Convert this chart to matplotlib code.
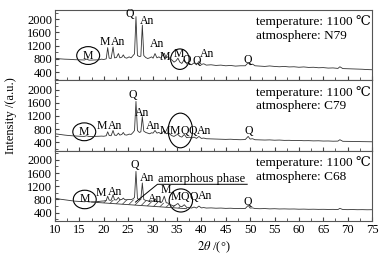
import matplotlib
matplotlib.use("Agg")
from matplotlib import pyplot as plt
from matplotlib.patches import Ellipse
from matplotlib.ticker import MultipleLocator

# diffraction angle, shared by the three patterns
two_theta = [10, 11, 12, 13, 14, 15, 16, 16.5, 17, 18, 19, 19.5, 20, 20.5, 20.8, 21.1,
             21.5, 21.9, 22.2, 22.6, 23.0, 23.3, 23.7, 24.0, 24.3, 24.7, 25.2, 25.6,
             26.0, 26.3, 26.6, 26.9, 27.3, 27.6, 27.9, 28.2, 28.6, 29.0, 29.4, 29.8,
             30.1, 30.5, 30.9, 31.3, 31.7, 32.0, 32.4, 32.8, 33.2, 33.6, 34.0, 34.4,
             34.8, 35.2, 35.6, 36.0, 36.5, 37.0, 37.5, 38.0, 38.5, 39.0, 39.5, 40.0,
             40.5, 41, 42, 43, 44, 45, 46, 47, 48, 49, 49.6, 50.0, 50.5, 51, 52, 53,
             54, 55, 56, 57, 58, 59, 60, 61, 62, 63, 64, 65, 66, 67, 68, 68.4, 69,
             70, 71, 72, 73, 74, 75]

n79 = [820, 800, 790, 785, 775, 770, 765, 790, 760, 765, 770, 790, 780, 800, 1140, 820,
       810, 1160, 830, 840, 960, 830, 850, 920, 840, 820, 860, 830,
       900, 950, 2080, 900, 870, 880, 1820, 900, 840, 810, 830, 860,
       820, 960, 830, 860, 820, 900, 970, 830, 870, 800, 760, 700,
       740, 820, 700, 660, 780, 640, 660, 620, 680, 620, 720, 630,
       650, 610, 620, 600, 610, 590, 600, 580, 590, 590, 680, 620, 640, 590, 580, 570,
       585, 570, 560, 570, 555, 560, 545, 555, 540, 545, 530, 535, 520, 525, 510, 560, 505,
       500, 495, 490, 485, 475, 470]

c79 = [660, 640, 620, 605, 595, 585, 580, 600, 575, 580, 585, 590, 585, 600, 720, 610,
       600, 760, 620, 610, 680, 620, 640, 700, 630, 620, 650, 640,
       700, 760, 1640, 760, 700, 720, 1180, 740, 700, 680, 660, 690,
       680, 760, 680, 700, 660, 700, 760, 660, 690, 640, 600, 580,
       620, 640, 580, 560, 640, 540, 560, 530, 560, 520, 580, 520,
       530, 510, 505, 500, 495, 490, 495, 485, 480, 485, 580, 500, 510, 480, 475, 470,
       475, 465, 470, 460, 462, 455, 458, 450, 452, 445, 448, 440, 442, 435, 438, 480, 432,
       430, 428, 425, 422, 420, 418]

c68 = [840, 810, 790, 770, 750, 740, 730, 740, 725, 730, 740, 750, 755, 770, 900, 780,
       775, 940, 790, 785, 860, 790, 800, 840, 795, 790, 800, 795,
       820, 860, 1650, 830, 790, 800, 1300, 800, 770, 760, 750, 760,
       740, 820, 730, 740, 700, 740, 900, 700, 690, 650, 620, 600,
       640, 680, 600, 580, 640, 560, 560, 540, 570, 540, 600, 545,
       555, 540, 545, 535, 540, 530, 535, 525, 530, 525, 620, 540, 545, 525, 520, 525,
       515, 520, 512, 515, 510, 512, 505, 508, 502, 505, 500, 502, 498, 500, 495, 530, 495,
       492, 495, 490, 492, 488, 490]

# amorphous hump of the C68 pattern
amorph_x = [17.5, 19, 21, 23, 25, 27, 29, 31, 33, 35, 37]
amorph_top = [725, 745, 780, 795, 800, 790, 755, 735, 680, 620, 525]
amorph_base = [720, 705, 685, 664, 644, 623, 603, 582, 562, 541, 520]

atmospheres = ["N79", "C79", "C68"]
patterns = [n79, c79, c68]

# phase labels (text, 2theta, intensity) for each panel
peak_labels = [
    [("M", 16.8, 900), ("M", 20.3, 1300), ("An", 22.9, 1320), ("Q", 25.3, 2150),
     ("An", 28.9, 1960), ("An", 30.9, 1260), ("M", 32.6, 870), ("M", 35.3, 960),
     ("Q", 37.1, 760), ("Q", 39.1, 740), ("An", 41.2, 960), ("Q", 49.5, 780)],
    [("M", 16.0, 720), ("M", 19.6, 900), ("An", 22.4, 900), ("Q", 26.0, 1830),
     ("An", 27.8, 1300), ("An", 30.2, 900), ("M", 32.6, 740), ("M", 34.6, 740),
     ("Q", 36.5, 740), ("Q", 38.3, 740), ("An", 40.6, 740), ("Q", 49.7, 740)],
    [("M", 16.1, 800), ("M", 19.3, 1010), ("An", 22.4, 1040), ("Q", 26.4, 1850),
     ("An", 28.9, 1460), ("An", 30.5, 800), ("M", 32.8, 1080), ("M", 34.8, 860),
     ("Q", 36.6, 860), ("Q", 38.4, 860), ("An", 40.7, 900), ("Q", 49.6, 710)],
]
circles = [
    [(16.8, 900, 4.7, 540), (35.6, 790, 3.8, 620)],
    [(16.0, 720, 4.7, 540), (35.7, 760, 5.0, 1050)],
    [(16.1, 800, 4.7, 560), (35.8, 770, 4.8, 700)],
]

plt.rcParams["font.family"] = ["Liberation Serif", "DejaVu Serif"]
plt.rcParams["mathtext.fontset"] = "stix"
plt.rcParams["font.size"] = 9
plt.rcParams["hatch.linewidth"] = 0.5

fig, axes = plt.subplots(3, 1, figsize=(3.82, 2.56), dpi=100, sharex=True)
fig.subplots_adjust(left=0.144, right=0.974, top=0.961, bottom=0.137, hspace=0)

line_col = "#333333"
for i, ax in enumerate(axes):
    ax.plot(two_theta, patterns[i], color=line_col, lw=0.6)
    ax.set_xlim(10, 75)
    ax.set_ylim(150, 2280)
    ax.set_yticks([400, 800, 1200, 1600, 2000])
    ax.yaxis.set_minor_locator(MultipleLocator(200))
    ax.xaxis.set_major_locator(MultipleLocator(5))
    ax.xaxis.set_minor_locator(MultipleLocator(2.5))
    ax.tick_params(which="both", direction="in", top=False, right=False,
                   color="#444444", labelsize=9, pad=2)
    ax.tick_params(which="major", length=3)
    ax.tick_params(which="minor", length=2)
    for sp in ax.spines.values():
        sp.set_color("#555555")
        sp.set_linewidth(0.8)

    for txt, x, y in peak_labels[i]:
        ax.text(x, y, txt, ha="center", va="center", fontsize=8.5)
    for cx, cy, w, h in circles[i]:
        ax.add_patch(Ellipse((cx, cy), w, h, fill=False, color="black", lw=0.8))

    ax.text(0.635, 0.83, "temperature: 1100 \u2103", transform=ax.transAxes,
            ha="left", va="center", fontsize=9.5)
    ax.text(0.635, 0.63, "atmosphere: " + atmospheres[i], transform=ax.transAxes,
            ha="left", va="center", fontsize=9.5)

# hatched amorphous region and its callout
ax = axes[2]
ax.fill_between(amorph_x, amorph_base, amorph_top, facecolor="none",
                edgecolor=line_col, hatch="/////", lw=0)
ax.plot(amorph_x, amorph_base, color=line_col, lw=0.6)
ax.text(31.1, 1430, "amorphous phase", ha="left", va="center", fontsize=9)
ax.plot([26.5, 31.0, 49.4], [720, 1260, 1260], color="black", lw=0.7)

axes[2].set_xlabel(r"$2\theta$ /(°)", fontsize=9, labelpad=3)
fig.text(0.03, 0.55, "Intensity /(a.u.)", rotation=90, ha="center", va="center", fontsize=9)

plt.savefig("out.png", dpi=100)
